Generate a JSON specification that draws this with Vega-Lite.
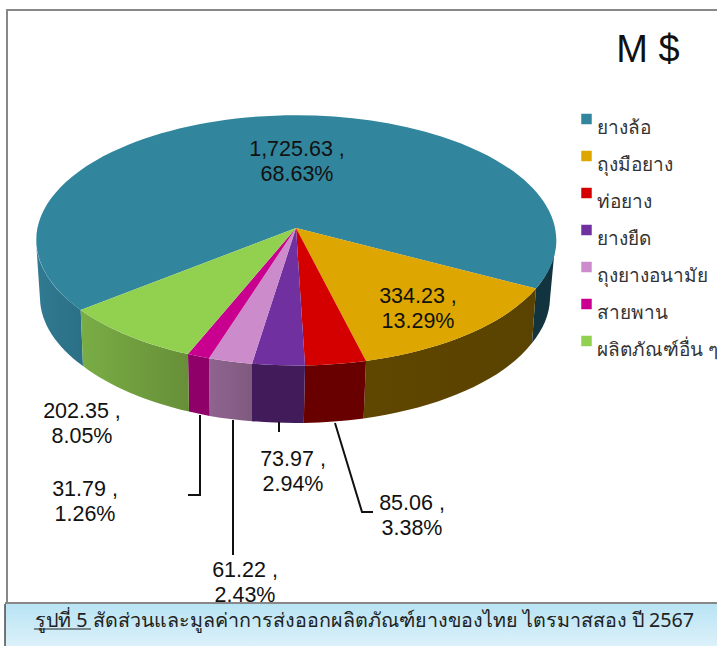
{
"$schema":"https://vega.github.io/schema/vega-lite/v6.json",
"width":717,"height":646,"padding":0,"autosize":{"type":"none"},"background":"white",
"config":{"view":{"stroke":null},"font":"Liberation Sans"},
"data":{"values":[
{"product":"ยางล้อ","value":1725.63,"share":68.63},
{"product":"ถุงมือยาง","value":334.23,"share":13.29},
{"product":"ท่อยาง","value":85.06,"share":3.38},
{"product":"ยางยืด","value":73.97,"share":2.94},
{"product":"ถุงยางอนามัย","value":61.22,"share":2.43},
{"product":"สายพาน","value":31.79,"share":1.26},
{"product":"ผลิตภัณฑ์อื่น ๆ","value":202.35,"share":8.05}
]},
"resolve":{"scale":{"x":"independent","y":"independent","shape":"independent"}},
"layer":[
{"mark":{"type":"point","filled":true,"opacity":1,"size":4,"strokeWidth":0},
 "encoding":{
  "x":{"datum":1,"scale":{"domain":[0,1],"range":[296,296]},"axis":null},
  "y":{"datum":1,"scale":{"domain":[0,1],"range":[228,228]},"axis":null},
  "shape":{"field":"product","type":"nominal","legend":null,"scale":{
   "domain":["ยางล้อ","ถุงมือยาง","ท่อยาง","ยางยืด","ถุงยางอนามัย","สายพาน","ผลิตภัณฑ์อื่น ๆ"],
   "range":[
    "M-260,12.5 A260,125 0 0 0 -215.3,82 L-213,138 A255,124 0 0 1 -256,71 Z M240,60.6 A260,125 0 0 0 259.5,12.5 L254,71 A255,124 0 0 1 236,115 Z",
    "M240,60.6 A260,125 0 0 1 70,132.9 L67.6,190.4 A255,124 0 0 0 236,115 Z",
    "M70,132.9 A260,125 0 0 1 9,137.4 L7.8,194.9 A255,124 0 0 0 67.6,190.4 Z",
    "M9,137.4 A260,125 0 0 1 -44,135.7 L-44,193.2 A255,124 0 0 0 7.8,194.9 Z",
    "M-44,135.7 A260,125 0 0 1 -87,130.3 L-86.3,187.9 A255,124 0 0 0 -44,193.2 Z",
    "M-87,130.3 A260,125 0 0 1 -108,126 L-107,183.6 A255,124 0 0 0 -86.3,187.9 Z",
    "M-108,126 A260,125 0 0 1 -215.3,82 L-213,138 A255,124 0 0 0 -107,183.6 Z"
   ]}},
  "fill":{"condition":[
   {"test":"datum.product==='ยางล้อ'","value":{"gradient":"linear","x1":0,"y1":0,"x2":1,"y2":0,"stops":[{"offset":0,"color":"#317a91"},{"offset":0.09,"color":"#2a6f86"},{"offset":0.2,"color":"#2a6f86"},{"offset":0.8,"color":"#12343f"},{"offset":1,"color":"#12343f"}]}},
   {"test":"datum.product==='ถุงมือยาง'","value":{"gradient":"linear","x1":0,"y1":0,"x2":1,"y2":0,"stops":[{"offset":0,"color":"#5f4700"},{"offset":1,"color":"#5a4200"}]}},
   {"test":"datum.product==='ท่อยาง'","value":"#680000"},
   {"test":"datum.product==='ยางยืด'","value":"#411b5a"},
   {"test":"datum.product==='ถุงยางอนามัย'","value":{"gradient":"linear","x1":0,"y1":0,"x2":1,"y2":0,"stops":[{"offset":0,"color":"#8f6490"},{"offset":1,"color":"#7f5a7e"}]}},
   {"test":"datum.product==='สายพาน'","value":"#8f0068"}
  ],"value":{"gradient":"linear","x1":0,"y1":0,"x2":1,"y2":0,"stops":[{"offset":0,"color":"#79ad45"},{"offset":1,"color":"#678f38"}]}}
 }},
{"mark":{"type":"point","filled":true,"opacity":1,"size":4,"strokeWidth":0},
 "encoding":{
  "x":{"datum":1,"scale":{"domain":[0,1],"range":[296,296]},"axis":null},
  "y":{"datum":1,"scale":{"domain":[0,1],"range":[228,228]},"axis":null},
  "shape":{"field":"product","type":"nominal","legend":null,"scale":{
   "domain":["ยางล้อ","ถุงมือยาง","ท่อยาง","ยางยืด","ถุงยางอนามัย","สายพาน","ผลิตภัณฑ์อื่น ๆ"],
   "range":[
    "M0,0 L-215.3,82 A260,125 0 1 1 240,60.6 Z",
    "M0,0 L240,60.6 A260,125 0 0 1 70,132.9 Z",
    "M0,0 L70,132.9 A260,125 0 0 1 9,137.4 Z",
    "M0,0 L9,137.4 A260,125 0 0 1 -44,135.7 Z",
    "M0,0 L-44,135.7 A260,125 0 0 1 -87,130.3 Z",
    "M0,0 L-87,130.3 A260,125 0 0 1 -108,126 Z",
    "M0,0 L-108,126 A260,125 0 0 1 -215.3,82 Z"
   ]}},
  "color":{"field":"product","type":"nominal","sort":null,
   "scale":{"domain":["ยางล้อ","ถุงมือยาง","ท่อยาง","ยางยืด","ถุงยางอนามัย","สายพาน","ผลิตภัณฑ์อื่น ๆ"],
    "range":["#31859c","#dda600","#d40000","#7030a0","#cc8ccb","#c9008f","#92d050"]},
   "legend":{"title":null,"orient":"none","legendX":577,"legendY":107,"symbolType":"square","symbolSize":110,"symbolStrokeWidth":0,"rowPadding":6,"labelFontSize":19,"labelColor":"#333333","labelOffset":1,"labelLimit":200,"labelFont":"Noto Sans","labelBaseline":"top","clipHeight":24,"encoding":{"labels":{"update":{"dy":{"value":-3}}}}}}
 }},
{"mark":{"type":"point","filled":false,"opacity":1,"size":4,"stroke":"#111111","strokeWidth":2},
 "encoding":{
  "x":{"datum":1,"scale":{"domain":[0,1],"range":[296,296]},"axis":null},
  "y":{"datum":1,"scale":{"domain":[0,1],"range":[228,228]},"axis":null},
  "shape":{"field":"product","type":"nominal","legend":null,"scale":{
   "domain":["ยางล้อ","ถุงมือยาง","ท่อยาง","ยางยืด","ถุงยางอนามัย","สายพาน","ผลิตภัณฑ์อื่น ๆ"],
   "range":[
    "M0,0",
    "M0,0",
    "M39,195 L66,284 L77,284",
    "M-17,194 L-17,204",
    "M-63,192 L-63,327",
    "M-96,187 L-96,267 L-108,267",
    "M0,0"
   ]}}
 }},
{"transform":[{"calculate":"format(datum.value,',.2f')+' ,\\n'+format(datum.share,'.2f')+'%'","as":"label"}],
 "mark":{"type":"text","fontSize":21.5,"lineHeight":25,"lineBreak":"\n","align":"center","baseline":"middle","color":"#111111","font":"Liberation Sans"},
 "encoding":{
  "x":{"field":"value","type":"quantitative","axis":null,"scale":{"zero":false,"nice":false,"domain":[31.79,61.22,73.97,85.06,202.35,334.23,1725.63],"range":[85,245,293,412,82,418,297]}},
  "y":{"field":"value","type":"quantitative","axis":null,"scale":{"zero":false,"nice":false,"domain":[31.79,61.22,73.97,85.06,202.35,334.23,1725.63],"range":[490,571,460,504,412,297,150]}},
  "text":{"field":"label"}
 }},
{"data":{"values":[{"part":"caption"}]},
 "mark":{"type":"point","filled":true,"opacity":1,"size":4,"shape":"M-291,375 L421,375 L421,418 L-291,418 Z","strokeWidth":0,
  "fill":{"gradient":"linear","x1":0,"y1":0,"x2":0,"y2":1,"stops":[{"offset":0,"color":"#b7e3f3"},{"offset":1,"color":"#dcf1fa"}]}},
 "encoding":{
  "x":{"datum":1,"scale":{"domain":[0,1],"range":[296,296]},"axis":null},
  "y":{"datum":1,"scale":{"domain":[0,1],"range":[228,228]},"axis":null}
 }},
{"data":{"values":[{"part":"frame"}]},
 "mark":{"type":"point","filled":false,"opacity":1,"size":4,"shape":"M-289,375 L-289,-218 L421,-218 M-291,375 L421,375","stroke":"#888888","strokeWidth":2},
 "encoding":{
  "x":{"datum":1,"scale":{"domain":[0,1],"range":[296,296]},"axis":null},
  "y":{"datum":1,"scale":{"domain":[0,1],"range":[228,228]},"axis":null}
 }},
{"data":{"values":[{"part":"caption underline"}]},
 "mark":{"type":"point","filled":false,"opacity":1,"size":4,"shape":"M-262,401 L-205,401 M-291,376 L-291,418","stroke":"#222222","strokeWidth":1.2},
 "encoding":{
  "x":{"datum":1,"scale":{"domain":[0,1],"range":[296,296]},"axis":null},
  "y":{"datum":1,"scale":{"domain":[0,1],"range":[228,228]},"axis":null}
 }},
{"data":{"values":[{"label":"รูปที่ 5 สัดส่วนและมูลค่าการส่งออกผลิตภัณฑ์ยางของไทย ไตรมาสสอง ปี 2567"}]},
 "mark":{"type":"text","fontSize":19.7,"align":"center","baseline":"middle","color":"#222222","font":"Noto Sans"},
 "encoding":{
  "x":{"datum":1,"scale":{"domain":[0,1],"range":[364.5,364.5]},"axis":null},
  "y":{"datum":1,"scale":{"domain":[0,1],"range":[621,621]},"axis":null},
  "text":{"field":"label"}
 }},
{"data":{"values":[{"label":"M $"}]},
 "mark":{"type":"text","fontSize":38,"align":"center","baseline":"alphabetic","color":"#111111","font":"Liberation Sans"},
 "encoding":{
  "x":{"datum":1,"scale":{"domain":[0,1],"range":[648,648]},"axis":null},
  "y":{"datum":1,"scale":{"domain":[0,1],"range":[62,62]},"axis":null},
  "text":{"field":"label"}
 }}
]}
